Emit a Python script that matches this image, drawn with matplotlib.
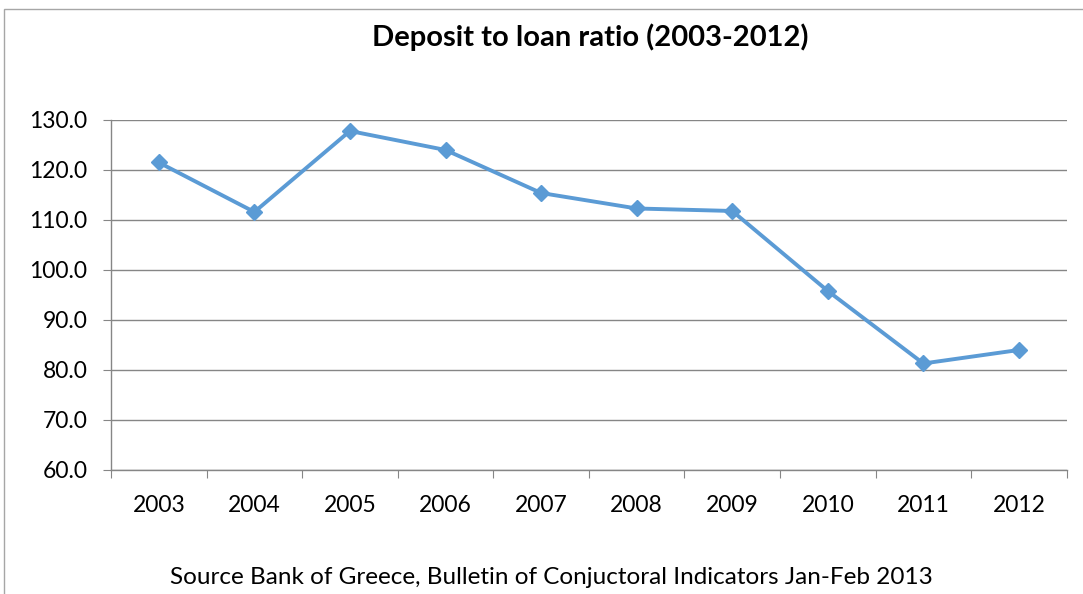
import numpy as np
import matplotlib.pyplot as plt
from matplotlib.patches import Rectangle

years = ["2003", "2004", "2005", "2006", "2007", "2008", "2009", "2010", "2011", "2012"]
ratio = [121.5, 111.6, 127.8, 124.0, 115.4, 112.3, 111.8, 95.8, 81.3, 84.0]

plt.rcParams["font.family"] = ["Lato", "DejaVu Sans"]

fig = plt.figure(figsize=(10.83, 5.94), dpi=100)
ax = fig.add_axes([0.1025, 0.2088, 0.8825, 0.5892])

# chart frame, cut off on right and bottom like the screenshot
fig.patches.append(Rectangle((4 / 1083, -0.1), 1.2, 1 - 9 / 594 + 0.1,
                             transform=fig.transFigure, fill=False,
                             edgecolor="#a6a6a6", linewidth=1))

x = np.arange(len(years))
ax.plot(x, ratio, color="#5B9BD5", linewidth=2.8, marker="D", markersize=8.5,
        zorder=3)

ax.set_xlim(-0.5, len(years) - 0.5)
ax.set_ylim(60, 130)
ax.set_yticks(np.arange(60, 131, 10))
ax.set_yticklabels([f"{v:.1f}" for v in np.arange(60, 131, 10)])
ax.set_xticks(np.arange(-0.5, len(years), 1))
ax.set_xticklabels([])
ax.set_xticks(x, minor=True)
ax.set_xticklabels(years, minor=True)
ax.tick_params(axis="x", which="minor", length=0, pad=18, labelsize=16.5)
ax.tick_params(axis="x", which="major", length=6, color="#868686")
ax.tick_params(axis="y", length=6, color="#868686", labelsize=16.5, pad=11)

ax.grid(axis="y", color="#868686", linewidth=1)
ax.set_axisbelow(True)
for s in ["top", "right"]:
    ax.spines[s].set_visible(False)
for s in ["left", "bottom"]:
    ax.spines[s].set_color("#868686")
    ax.spines[s].set_linewidth(1)

fig.text(0.545, 0.937, "Deposit to loan ratio (2003-2012)", ha="center",
         va="center", fontsize=21, fontweight="bold")
fig.text(0.509, 0.027, "Source Bank of Greece, Bulletin of Conjuctoral Indicators Jan-Feb 2013",
         ha="center", va="center", fontsize=17.5)

fig.savefig("out.png", dpi=100)
